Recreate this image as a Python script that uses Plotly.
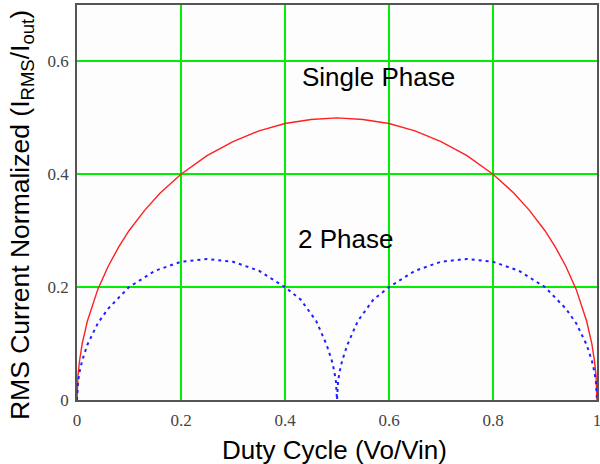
import plotly.graph_objects as go

duty_single = [0, 0.002, 0.005, 0.01, 0.02, 0.04, 0.06, 0.08, 0.1, 0.13, 0.16, 0.2, 0.25, 0.3, 0.35, 0.4, 0.45, 0.5,
               0.55, 0.6, 0.65, 0.7, 0.75, 0.8, 0.84, 0.87, 0.9, 0.92, 0.94, 0.96, 0.98, 0.99, 0.995, 0.998, 1]
rms_single = [0, 0.045, 0.07, 0.1, 0.14, 0.196, 0.237, 0.271, 0.3, 0.336, 0.367, 0.4, 0.433, 0.458, 0.477, 0.49, 0.497, 0.5,
              0.497, 0.49, 0.477, 0.458, 0.433, 0.4, 0.367, 0.336, 0.3, 0.271, 0.237, 0.196, 0.14, 0.1, 0.07, 0.045, 0]

duty_two = [0, 0.002, 0.005, 0.01, 0.02, 0.04, 0.06, 0.08, 0.1, 0.15, 0.2, 0.25, 0.3, 0.35, 0.4, 0.43, 0.46, 0.48, 0.49, 0.495, 0.498, 0.5,
            0.502, 0.505, 0.51, 0.52, 0.54, 0.57, 0.6, 0.65, 0.7, 0.75, 0.8, 0.85, 0.9, 0.92, 0.94, 0.96, 0.98, 0.99, 0.995, 0.998, 1]
rms_two = [0, 0.032, 0.05, 0.07, 0.098, 0.136, 0.162, 0.181, 0.2, 0.229, 0.245, 0.25, 0.245, 0.229, 0.2, 0.178, 0.14, 0.098, 0.07, 0.05, 0.032, 0,
           0.032, 0.05, 0.07, 0.098, 0.14, 0.178, 0.2, 0.229, 0.245, 0.25, 0.245, 0.229, 0.2, 0.181, 0.162, 0.136, 0.098, 0.07, 0.05, 0.032, 0]

x_ticks = [0, 0.2, 0.4, 0.6, 0.8, 1]
x_tick_labels = ["0", "0.2", "0.4", "0.6", "0.8", "1"]
y_ticks = [0, 0.2, 0.4, 0.6]
y_tick_labels = ["0", "0.2", "0.4", "0.6"]

sans = "Liberation Sans, Arial"

fig = go.Figure()
fig.add_trace(go.Scatter(x=duty_single, y=rms_single, mode="lines",
                         line=dict(color="#ff2020", width=1.4), name="Single Phase"))
fig.add_trace(go.Scatter(x=duty_two, y=rms_two, mode="lines",
                         line=dict(color="#2020ff", width=2, dash="3px,4px"), name="2 Phase"))

fig.add_annotation(x=0.579, y=0.572, text="Single Phase", showarrow=False,
                   font=dict(family=sans, size=26, color="black"))
fig.add_annotation(x=0.517, y=0.285, text="2 Phase", showarrow=False,
                   font=dict(family=sans, size=26, color="black"))

# axis titles
fig.add_annotation(xref="paper", yref="paper", x=0.496, y=-0.126, xanchor="center", yanchor="middle",
                   text="Duty Cycle (Vo/Vin)",
                   showarrow=False, font=dict(family=sans, size=26, color="black"))
fig.add_annotation(xref="paper", yref="paper", x=-0.106, y=0.468, xanchor="center", yanchor="middle",
                   textangle=-90,
                   text="RMS Current Normalized (I<sub>RMS</sub>/I<sub>out</sub>)",
                   showarrow=False, font=dict(family=sans, size=26.5, color="black"))

axis_common = dict(showgrid=True, gridcolor="#00ee00", gridwidth=1.5, zeroline=False,
                   showline=True, linecolor="#555555", linewidth=1.5, mirror=True, ticks="",
                   automargin=False, ticklabeloverflow="allow",
                   tickfont=dict(family="Liberation Serif, Times New Roman", size=17, color="#444444"))

fig.update_xaxes(range=[0, 1], tickvals=x_ticks, ticktext=x_tick_labels, ticklabelstandoff=4, **axis_common)
fig.update_yaxes(range=[0, 0.7], tickvals=y_ticks, ticktext=y_tick_labels, ticklabelstandoff=3, **axis_common)

fig.update_layout(width=600, height=464, margin=dict(l=77, r=3, t=5, b=64),
                  paper_bgcolor="white", plot_bgcolor="#fdfdfd", showlegend=False)

fig.write_html("out.html", config={"displayModeBar": False},
               post_script="document.body.style.margin='0';document.body.style.overflow='hidden';")
